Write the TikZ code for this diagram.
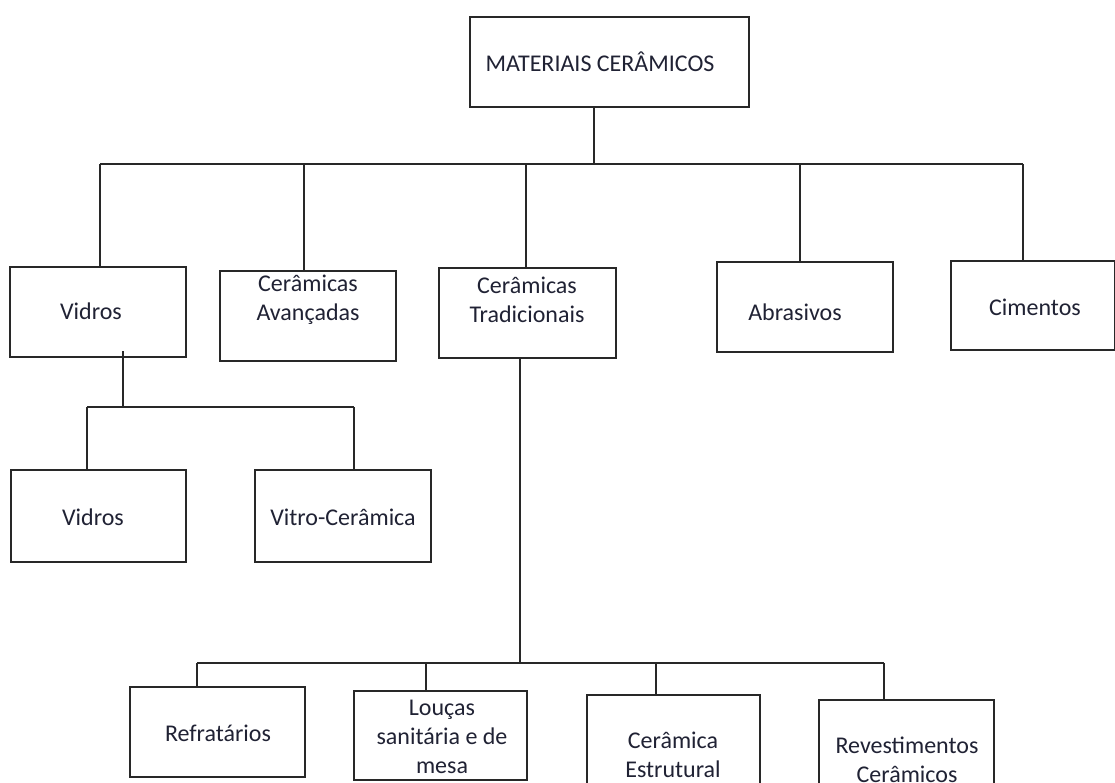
\documentclass[tikz,border=0pt]{standalone}
\usepackage{fontspec}
\setmainfont{Carlito}
\definecolor{ink}{RGB}{32,34,52}
\definecolor{edge}{RGB}{40,40,40}
\tikzset{
  box/.style={draw=edge, line width=1.9pt, inner sep=0pt, anchor=center},
  lbl/.style={text=ink, align=center, inner sep=0pt, font=\fontsize{24}{29}\selectfont},
  link/.style={draw=edge, line width=1.9pt}
}
\begin{document}
\begin{tikzpicture}[x=1pt,y=-1pt]
\useasboundingbox (0,0) rectangle (1115,782);
\clip (0,0) rectangle (1115,782);
\fill[white] (0,0) rectangle (1115,782);
% boxes
\node[box, minimum width=279pt, minimum height=90pt] (top) at (609.5,62) {};
\node[box, minimum width=176pt, minimum height=90pt] (vid) at (98,312) {};
\node[box, minimum width=176pt, minimum height=90pt] (ava) at (308,316) {};
\node[box, minimum width=177pt, minimum height=90pt] (tra) at (527.5,313) {};
\node[box, minimum width=176pt, minimum height=90pt] (abr) at (805,307) {};
\node[box, minimum width=164pt, minimum height=89pt] (cim) at (1033,305.5) {};
\node[box, minimum width=175pt, minimum height=92pt] (vidb) at (98.5,516) {};
\node[box, minimum width=176pt, minimum height=92pt] (vit) at (343,516) {};
\node[box, minimum width=175pt, minimum height=90pt] (ref) at (217.5,732) {};
\node[box, minimum width=173pt, minimum height=89pt] (lou) at (440.5,735.5) {};
\node[box, minimum width=173pt, minimum height=105pt] (est) at (673.5,747.5) {};
\node[box, minimum width=175pt, minimum height=100pt] (rev) at (906.5,750) {};
% texts
\node[lbl] (topT) at (600,62) {MATERIAIS CERÂMICOS};
\node[lbl] (vidT) at (91,311) {Vidros};
\node[lbl] (avaT) at (308,300) {Cerâmicas\\Avançadas};
\node[lbl] (traT) at (527,300) {Cerâmicas\\Tradicionais};
\node[lbl] (abrT) at (795,312) {Abrasivos};
\node[lbl] (cimT) at (1035,307) {Cimentos};
\node[lbl] (vidbT) at (93,517) {Vidros};
\node[lbl] (vitT) at (343,517) {Vitro-Cerâmica};
\node[lbl] (refT) at (218,733) {Refratários};
\node[lbl] (louT) at (442,737) {Louças\\sanitária e de\\mesa};
\node[lbl] (estT) at (673,755) {Cerâmica\\Estrutural};
\node[lbl] (revT) at (907,760) {Revestimentos\\Cerâmicos};
% bus coordinates
\coordinate (t0) at (594,164);
\coordinate (b1a) at (100,164);
\coordinate (b1b) at (304,164);
\coordinate (b1c) at (526,164);
\coordinate (b1d) at (800,164);
\coordinate (b1e) at (1023,164);
\coordinate (v0) at (123,351);
\coordinate (b2a) at (87,407);
\coordinate (b2b) at (354,407);
\coordinate (r0) at (520,663);
\coordinate (b3a) at (197,663);
\coordinate (b3b) at (426,663);
\coordinate (b3c) at (656,663);
\coordinate (b3d) at (884,663);
% connectors level 1
\draw[link] (top.south -| t0) -- (t0);
\draw[link] (b1a) -- (b1e);
\draw[link] (b1a) -- (b1a |- vid.north);
\draw[link] (b1b) -- (b1b |- ava.north);
\draw[link] (b1c) -- (b1c |- tra.north);
\draw[link] (b1d) -- (b1d |- abr.north);
\draw[link] (b1e) -- (b1e |- cim.north);
% Vidros branch
\draw[link] (v0) -- (v0 |- b2a);
\draw[link] (b2a) -- (b2b);
\draw[link] (b2a) -- (b2a |- vidb.north);
\draw[link] (b2b) -- (b2b |- vit.north);
% Tradicionais branch
\draw[link] (tra.south -| r0) -- (r0);
\draw[link] (b3a) -- (b3d);
\draw[link] (b3a) -- (b3a |- ref.north);
\draw[link] (b3b) -- (b3b |- lou.north);
\draw[link] (b3c) -- (b3c |- est.north);
\draw[link] (b3d) -- (b3d |- rev.north);
\end{tikzpicture}
\end{document}
